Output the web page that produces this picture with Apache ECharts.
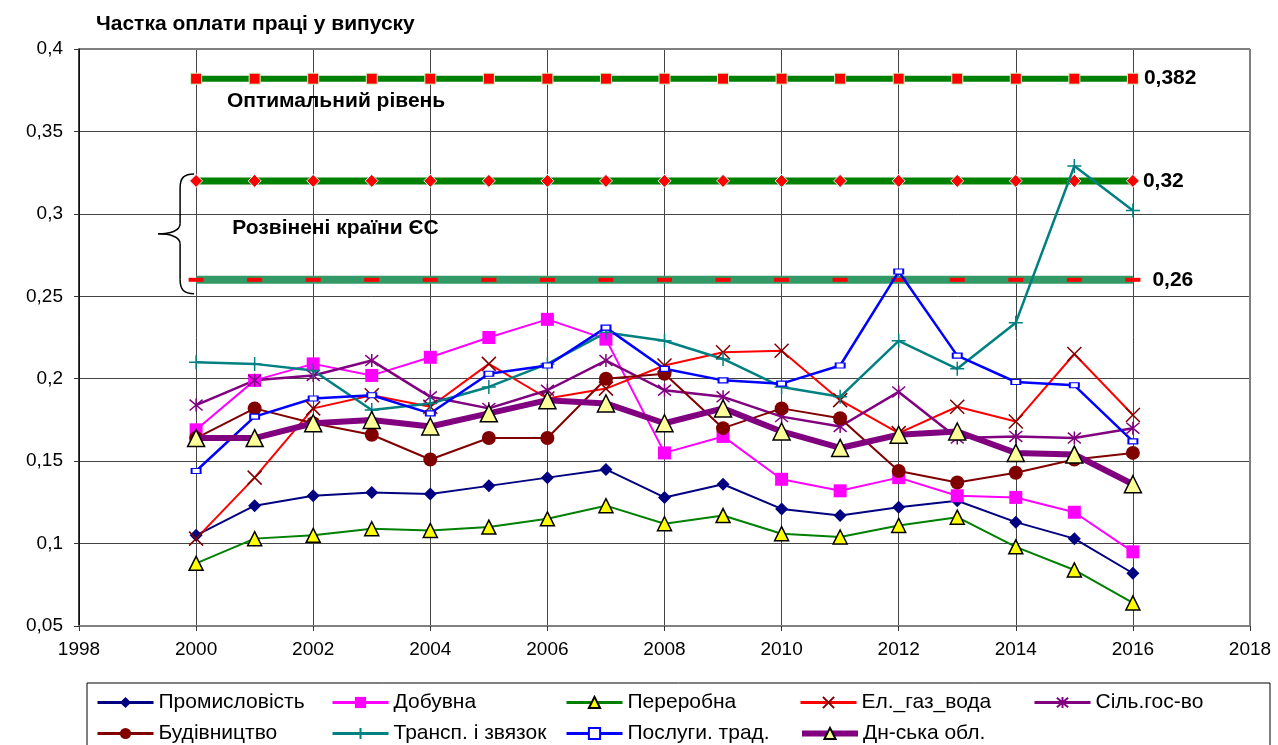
<!DOCTYPE html>
<html><head><meta charset="utf-8">
<script src="https://cdn.jsdelivr.net/npm/echarts@6/dist/echarts.min.js"></script>
<style>html,body{margin:0;padding:0;background:#fff}#c{width:1278px;height:745px}</style>
</head><body><div id="c"></div>
<script>
const years = [2000,2001,2002,2003,2004,2005,2006,2007,2008,2009,2010,2011,2012,2013,2014,2015,2016];
const promyslovist = [0.105,0.123,0.129,0.131,0.130,0.135,0.140,0.145,0.128,0.136,0.121,0.117,0.122,0.126,0.113,0.103,0.082];
const dobuvna      = [0.169,0.199,0.209,0.202,0.213,0.225,0.236,0.224,0.155,0.165,0.139,0.132,0.140,0.129,0.128,0.119,0.095];
const pererobna    = [0.088,0.103,0.105,0.109,0.108,0.110,0.115,0.123,0.112,0.117,0.106,0.104,0.111,0.116,0.098,0.084,0.064];
const elGazVoda    = [0.103,0.140,0.182,0.190,0.183,0.209,0.188,0.194,0.208,0.216,0.217,0.187,0.167,0.183,0.174,0.215,0.178];
const silGosp      = [0.184,0.199,0.202,0.211,0.189,0.182,0.193,0.211,0.193,0.189,0.177,0.171,0.192,0.164,0.165,0.164,0.170];
const budivnytstvo = [0.164,0.182,0.173,0.166,0.151,0.164,0.164,0.200,0.203,0.170,0.182,0.176,0.144,0.137,0.143,0.151,0.155];
const transport    = [0.210,0.209,0.205,0.181,0.185,0.195,0.209,0.228,0.223,0.212,0.195,0.189,0.223,0.206,0.234,0.329,0.302];
const poslugy      = [0.144,0.177,0.188,0.190,0.179,0.203,0.208,0.231,0.206,0.199,0.197,0.208,0.265,0.214,0.198,0.196,0.162];
const dnOblast     = [0.164,0.164,0.173,0.175,0.171,0.179,0.187,0.185,0.173,0.182,0.168,0.158,0.166,0.168,0.155,0.154,0.136];
const optimalLevel = 0.382;
const euHigh = 0.32;
const euLow = 0.26;
const names = ['Промисловість','Добувна','Переробна','Ел._газ_вода','Сіль.гос-во','Будівництво','Трансп. і звязок','Послуги. трад.','Дн-ська обл.'];
const titleText = 'Частка оплати праці у випуску';
const optimalText = 'Оптимальний рівень';
const euText = 'Розвінені країни ЄС';

const FONT = 'Arial, "Liberation Sans", sans-serif';
const fmt = v => String(+v.toFixed(3)).replace('.', ',');
const pairs = arr => years.map((y,i)=>[y,arr[i]]);

function refSeries(v, lineColor, lineWidth, symbol, symbolSize, itemStyle, labelDist){
  return {
    type:'line', silent:true, z:1,
    data: years.map((y,i)=> i===years.length-1 ? {value:[y,v], label:{show:true, position:'right', distance:labelDist, formatter:fmt(v), fontSize:21, fontWeight:'bold', color:'#000', fontFamily:FONT}} : [y,v]),
    lineStyle:{color:lineColor, width:lineWidth},
    symbol, symbolSize, itemStyle, showAllSymbol:true
  };
}
const X = 'path://M0,0L10,10M10,0L0,10';
const AST = 'path://M0,0L10,10M10,0L0,10M5,-1L5,11';
const PLUS = 'path://M5,0L5,10M0,5L10,5';

function dataSeries(name, arr, o){
  return Object.assign({name, type:'line', data:pairs(arr), z:3, showAllSymbol:true}, o);
}

const series = [
  refSeries(optimalLevel,'#008000',6,'rect',11,{color:'#FF0000',borderColor:'#CCFFCC',borderWidth:1},5),
  refSeries(euHigh,'#008000',7,'diamond',13,{color:'#FF0000',borderColor:'#CCFFFF',borderWidth:1},3),
  refSeries(euLow,'#339966',8,'rect',[15,4],{color:'#FF0000'},12),
  dataSeries(names[0], promyslovist, {lineStyle:{color:'#000080',width:2}, symbol:'diamond', symbolSize:13, itemStyle:{color:'#000080'}}),
  dataSeries(names[1], dobuvna, {lineStyle:{color:'#FF00FF',width:2}, symbol:'rect', symbolSize:13, itemStyle:{color:'#FF00FF'}}),
  dataSeries(names[2], pererobna, {lineStyle:{color:'#008000',width:2}, symbol:'triangle', symbolSize:14, itemStyle:{color:'#FFFF00',borderColor:'#000',borderWidth:1.5}}),
  dataSeries(names[3], elGazVoda, {lineStyle:{color:'#FF0000',width:2}, symbol:X, symbolSize:14, itemStyle:{color:'#800000',borderColor:'#800000',borderWidth:1.5}}),
  dataSeries(names[4], silGosp, {lineStyle:{color:'#800080',width:2.5}, symbol:AST, symbolSize:13, itemStyle:{color:'#800080',borderColor:'#800080',borderWidth:1.5}}),
  dataSeries(names[5], budivnytstvo, {lineStyle:{color:'#800000',width:2}, symbol:'circle', symbolSize:14, itemStyle:{color:'#800000'}}),
  dataSeries(names[6], transport, {lineStyle:{color:'#008080',width:2.5}, symbol:PLUS, symbolSize:14, itemStyle:{color:'#008080',borderColor:'#008080',borderWidth:1.5}}),
  dataSeries(names[7], poslugy, {lineStyle:{color:'#0000FF',width:2.5}, symbol:'rect', symbolSize:[9,5], itemStyle:{color:'#FFFFFF',borderColor:'#0000FF',borderWidth:1.5}}),
  dataSeries(names[8], dnOblast, {lineStyle:{color:'#800080',width:6}, symbol:'triangle', symbolSize:17, z:4, itemStyle:{color:'#FFFF99',borderColor:'#000',borderWidth:1.5}})
];

const legendPos = [[96,692],[331,692],[565,692],[799,692],[1033,692],[96,723],[331,723],[565,723],[799,723]];
const legendLineW = [3,3,3,3,3,3,3,3,6];
const legends = names.map((n,i)=>({
  data:[n], left:legendPos[i][0], top:legendPos[i][1], orient:'horizontal',
  itemWidth:56, itemHeight:14, itemGap:0, padding:0, selectedMode:false,
  lineStyle:{width:legendLineW[i]},
  textStyle:{fontSize:21, fontFamily:FONT, color:'#000', padding:[0,0,0,0]}
}));

const chart = echarts.init(document.getElementById('c'), null, {renderer:'canvas'});
chart.setOption({
  animation:false,
  backgroundColor:'#fff',
  grid:{left:79, right:28, top:49, bottom:119, show:false},
  xAxis:{type:'value', min:1998, max:2018, interval:2,
    axisLine:{show:true, onZero:false, lineStyle:{color:'#808080', width:2}},
    axisTick:{show:true, length:5, inside:false, lineStyle:{color:'#333'}},
    axisLabel:{fontSize:19, fontFamily:FONT, color:'#000', margin:14, formatter:v=>String(v)},
    splitLine:{show:true, lineStyle:{color:'#444', width:1}}},
  yAxis:{type:'value', min:0.05, max:0.4, interval:0.05,
    axisLine:{show:true, lineStyle:{color:'#000', width:1.5}},
    axisTick:{show:true, length:5, lineStyle:{color:'#333'}},
    axisLabel:{fontSize:19, fontFamily:FONT, color:'#000', margin:16, formatter:v=>fmt(v)},
    splitLine:{show:true, lineStyle:{color:'#444', width:1}}},
  legend: legends,
  series
});

const p = (x,y)=>chart.convertToPixel({gridIndex:0},[x,y]);
const tl = p(1998,0.4), br = p(2018,0.05);
const b1 = p(2000, euHigh), b2 = p(2000, euLow);
const optPos = p(2002.39, 0.3685);
const euPos = p(2002.38, 0.2914);
const bx = b1[0]-6, bTop = b1[1]-7, bBot = b2[1]+14, bMid = (bTop+bBot)/2;
const bs = {stroke:'#000', lineWidth:1.5, fill:null};
chart.setOption({graphic:[
  {type:'text', x:96, y:24, style:{text:titleText, font:'bold 21px '+FONT, fill:'#000', verticalAlign:'middle'}},
  {type:'text', x:optPos[0], y:optPos[1], style:{text:optimalText, font:'bold 21px '+FONT, fill:'#000', align:'center', verticalAlign:'middle'}},
  {type:'text', x:euPos[0], y:euPos[1], style:{text:euText, font:'bold 21px '+FONT, fill:'#000', align:'center', verticalAlign:'middle'}},
  {type:'line', shape:{x1:tl[0], y1:tl[1], x2:br[0], y2:tl[1]}, style:{stroke:'#808080', lineWidth:2}},
  {type:'line', shape:{x1:br[0], y1:tl[1], x2:br[0], y2:br[1]}, style:{stroke:'#808080', lineWidth:2}},
  {type:'bezierCurve', shape:{x1:bx+4, y1:bTop, cpx1:bx-6, cpy1:bTop, cpx2:bx-10, cpy2:bTop+4, x2:bx-10, y2:bTop+14}, style:bs},
  {type:'line', shape:{x1:bx-10, y1:bTop+14, x2:bx-10, y2:bMid-10}, style:bs},
  {type:'bezierCurve', shape:{x1:bx-10, y1:bMid-10, cpx1:bx-10, cpy1:bMid-3, cpx2:bx-20, cpy2:bMid, x2:bx-32, y2:bMid}, style:bs},
  {type:'bezierCurve', shape:{x1:bx-32, y1:bMid, cpx1:bx-20, cpy1:bMid, cpx2:bx-10, cpy2:bMid+3, x2:bx-10, y2:bMid+10}, style:bs},
  {type:'line', shape:{x1:bx-10, y1:bMid+10, x2:bx-10, y2:bBot-14}, style:bs},
  {type:'bezierCurve', shape:{x1:bx-10, y1:bBot-14, cpx1:bx-10, cpy1:bBot-4, cpx2:bx-6, cpy2:bBot, x2:bx+4, y2:bBot}, style:bs},
  {type:'rect', shape:{x:87, y:683, width:1183, height:80}, style:{stroke:'#000', lineWidth:1, fill:null}, z:-1}
]});
</script></body></html>
